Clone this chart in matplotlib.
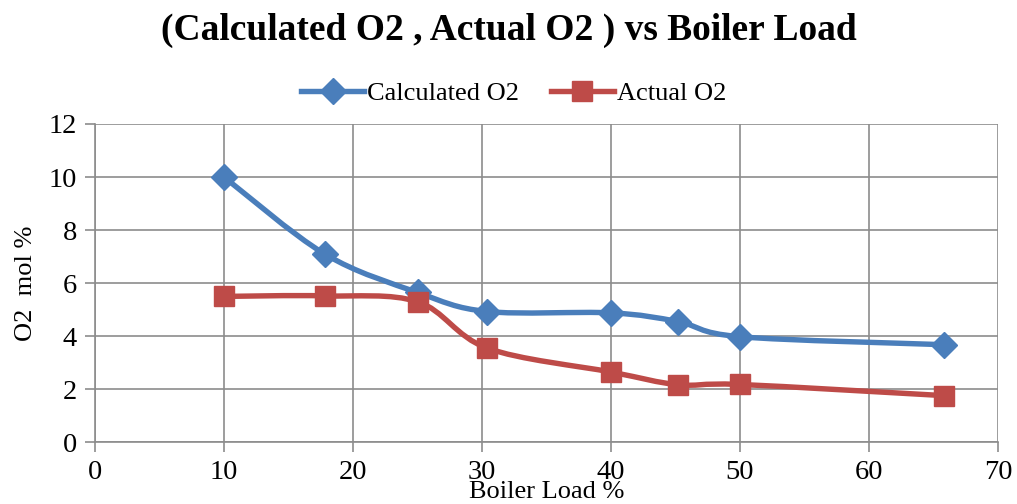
import matplotlib
matplotlib.use("Agg")
import matplotlib.pyplot as plt
import numpy as np
from matplotlib.path import Path
from matplotlib.patches import PathPatch
from matplotlib.lines import Line2D

# data
boiler_load = [10, 17.8, 25, 30.4, 40, 45.2, 50, 65.8]
calculated_o2 = [10.0, 7.1, 5.65, 4.93, 4.88, 4.55, 3.98, 3.68]
actual_o2 = [5.5, 5.52, 5.3, 3.55, 2.65, 2.17, 2.18, 1.76]

BLUE = "#4A7EBB"
RED = "#BE4B48"
GRID = "#8C8C8C"

plt.rcParams["font.family"] = ["Liberation Serif", "DejaVu Serif"]


def smooth_path(x, y):
    """Excel-like smoothed line: cubic Bezier through every point."""
    p = np.column_stack([x, y]).astype(float)
    ext = np.vstack([p[0], p, p[-1]])
    verts = [p[0]]
    codes = [Path.MOVETO]
    for i in range(len(p) - 1):
        p0, p1, p2, p3 = ext[i], ext[i + 1], ext[i + 2], ext[i + 3]
        c1 = p1 + (p2 - p0) / 6.0
        c2 = p2 - (p3 - p1) / 6.0
        verts += [c1, c2, p2]
        codes += [Path.CURVE4] * 3
    return Path(verts, codes)


fig = plt.figure(figsize=(10.17, 5.04), dpi=100)
ax = fig.add_axes([0.0934, 0.1224, 0.888, 0.6316])

series = [
    (calculated_o2, BLUE, "D", 13, "Calculated O2"),
    (actual_o2, RED, "s", 15, "Actual O2"),
]
handles = []
for vals, col, mk, ms, lab in series:
    ax.add_patch(PathPatch(smooth_path(boiler_load, vals), fill=False,
                           edgecolor=col, lw=3.9, capstyle="round",
                           joinstyle="round", zorder=3))
    ax.plot(boiler_load, vals, ls="none", marker=mk, ms=ms, color=col,
            mec=col, zorder=4)
    handles.append(Line2D([], [], color=col, lw=3.9, marker=mk, ms=ms,
                          label=lab))

ax.set_xlim(0, 70)
ax.set_ylim(0, 12)
ax.set_xticks(range(0, 71, 10))
ax.set_yticks(range(0, 13, 2))
ax.grid(True, color=GRID, lw=1.2)
ax.set_axisbelow(True)
for side in ("top", "right"):
    ax.spines[side].set_visible(False)
for side in ("left", "bottom"):
    ax.spines[side].set_color(GRID)
    ax.spines[side].set_linewidth(1.2)
ax.tick_params(axis="both", length=7, width=1.2, color=GRID,
               labelsize=20.5, pad=6)

ax.set_xlabel("Boiler Load %", fontsize=19, labelpad=-3)
ax.set_ylabel("O2  mol %", fontsize=19, labelpad=8)

fig.suptitle("(Calculated O2 , Actual O2 ) vs Boiler Load",
             fontsize=27, fontweight="bold", y=0.975)
fig.legend(handles=handles, loc="center", bbox_to_anchor=(0.505, 0.815),
           ncol=2, frameon=False, fontsize=19, handlelength=2.4,
           columnspacing=1.2, handletextpad=0.1)

fig.savefig("out.png", dpi=100)
